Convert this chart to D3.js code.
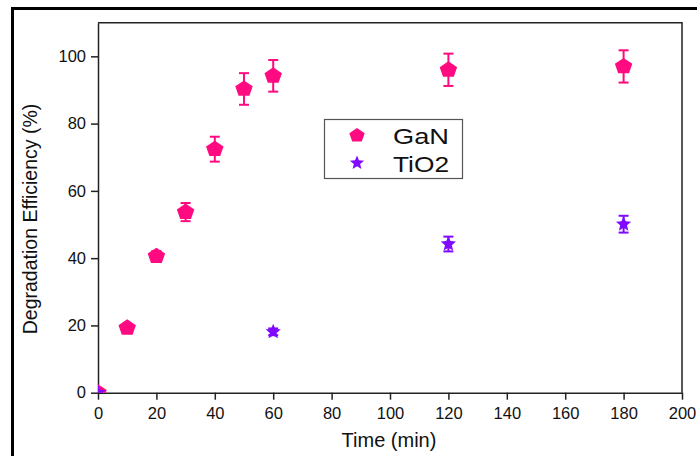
<!DOCTYPE html>
<html>
<head>
<meta charset="utf-8">
<script src="https://cdn.jsdelivr.net/npm/d3@7"></script>
<style>
  html, body { margin: 0; padding: 0; background: #fff; }
  svg { display: block; font-family: "Liberation Sans", Arial, sans-serif; }
</style>
</head>
<body>
<svg id="chart" width="697" height="456"></svg>
<script>
// ---- data ----
const ganTime  = [0, 10, 20, 30, 40, 50, 60, 120, 180];
const ganEff   = [0, 19.3, 40.6, 53.7, 72.4, 90.3, 94.2, 96.0, 97.0];
const ganErr   = [0, 0.6, 1.5, 2.7, 3.7, 4.7, 4.7, 4.8, 4.8];
const tioTime  = [0, 60, 120, 180];
const tioEff   = [0, 18.1, 44.2, 50.1];
const tioErr   = [0, 1.0, 2.2, 2.5];
const xTicks   = [0, 20, 40, 60, 80, 100, 120, 140, 160, 180, 200];
const yTicks   = [0, 20, 40, 60, 80, 100];
const seriesNames = ["GaN", "TiO2"];
const seriesColors = ["#ff0a80", "#7f0aff"];

const svg = d3.select("#chart");
const L = 98, R = 682, T = 22.7, B = 392.7;

// outer frame
svg.append("path")
  .attr("d", "M12.5,460 L12.5,8.5 L700,8.5")
  .attr("fill", "none").attr("stroke", "#000").attr("stroke-width", 3);

const x = d3.scaleLinear().domain([0, 200]).range([L, R]);
const y = d3.scaleLinear().domain([0, 110]).range([B, T]);

// clip
svg.append("defs").append("clipPath").attr("id", "plotclip")
  .append("rect").attr("x", L).attr("y", T).attr("width", R - L).attr("height", B - T);

// plot box top/right
svg.append("path")
  .attr("d", `M${L},${T} L${R},${T} L${R},${B}`)
  .attr("fill", "none").attr("stroke", "#222").attr("stroke-width", 1.5);

const xAxis = svg.append("g").attr("transform", `translate(0,${B})`)
  .call(d3.axisBottom(x).tickValues(xTicks).tickSize(7).tickSizeOuter(0).tickPadding(4));
const yAxis = svg.append("g").attr("transform", `translate(${L},0)`)
  .call(d3.axisLeft(y).tickValues(yTicks).tickSize(7).tickSizeOuter(0).tickPadding(5));
[xAxis, yAxis].forEach(g => {
  g.select(".domain").attr("stroke", "#222").attr("stroke-width", 1.5);
  g.selectAll(".tick line").attr("stroke", "#222").attr("stroke-width", 1.5);
  g.selectAll(".tick text").attr("fill", "#111").style("font-size", "16.5px")
    .style("font-family", "'Liberation Sans', Arial, sans-serif");
});
xAxis.selectAll(".tick text").attr("dy", "0.9em");

// axis titles
svg.append("text").attr("x", 389).attr("y", 447)
  .attr("text-anchor", "middle").style("font-size", "20px").attr("fill", "#111")
  .text("Time (min)");
svg.append("text").attr("transform", `translate(37,219) rotate(-90)`)
  .attr("text-anchor", "middle").style("font-size", "19.5px").attr("fill", "#111")
  .text("Degradation Efficiency (%)");

function pentagonPath(r) {
  const pts = d3.range(5).map(i => {
    const a = -Math.PI / 2 + i * 2 * Math.PI / 5;
    return [r * 1.08 * Math.cos(a), r * Math.sin(a)];
  });
  return "M" + pts.map(p => p.join(",")).join("L") + "Z";
}
function starPath(ro, ri) {
  const pts = d3.range(10).map(i => {
    const r = i % 2 === 0 ? ro : ri;
    const a = -Math.PI / 2 + i * Math.PI / 5;
    return [r * Math.cos(a), r * Math.sin(a)];
  });
  return "M" + pts.map(p => p.join(",")).join("L") + "Z";
}

function drawSeries(times, vals, errs, color, shape) {
  const g = svg.append("g");
  const data = times.map((t, i) => ({ t, v: vals[i], e: errs[i] }));
  const eb = g.selectAll("g.eb").data(data.filter(d => d.e > 0.8)).join("g");
  eb.append("line").attr("x1", d => x(d.t)).attr("x2", d => x(d.t))
    .attr("y1", d => y(d.v + d.e)).attr("y2", d => y(d.v - d.e))
    .attr("stroke", color).attr("stroke-width", 2);
  eb.append("line").attr("x1", d => x(d.t) - 5).attr("x2", d => x(d.t) + 5)
    .attr("y1", d => y(d.v + d.e)).attr("y2", d => y(d.v + d.e))
    .attr("stroke", color).attr("stroke-width", 2);
  eb.append("line").attr("x1", d => x(d.t) - 5).attr("x2", d => x(d.t) + 5)
    .attr("y1", d => y(d.v - d.e)).attr("y2", d => y(d.v - d.e))
    .attr("stroke", color).attr("stroke-width", 2);
  g.append("g").attr("clip-path", "url(#plotclip)")
    .selectAll("path").data(data).join("path")
    .attr("transform", d => `translate(${x(d.t)},${y(d.v)})`)
    .attr("d", shape).attr("fill", color);
}
drawSeries(ganTime, ganEff, ganErr, seriesColors[0], pentagonPath(8.5));
drawSeries(tioTime, tioEff, tioErr, seriesColors[1], starPath(8, 3.6));

// legend
const lg = svg.append("g");
lg.append("rect").attr("x", 324.5).attr("y", 119.5).attr("width", 138).attr("height", 59)
  .attr("fill", "#fff").attr("stroke", "#555").attr("stroke-width", 1.2);
lg.append("path").attr("transform", "translate(357,135.5)").attr("d", pentagonPath(7.5)).attr("fill", seriesColors[0]);
lg.append("path").attr("transform", "translate(357,163)").attr("d", starPath(7.5, 3.3)).attr("fill", seriesColors[1]);
lg.append("text").attr("x", 393).attr("y", 143.5).style("font-size", "22px").attr("fill", "#111")
  .attr("textLength", 56).attr("lengthAdjust", "spacingAndGlyphs").text(seriesNames[0]);
lg.append("text").attr("x", 393).attr("y", 171.5).style("font-size", "22px").attr("fill", "#111")
  .attr("textLength", 56).attr("lengthAdjust", "spacingAndGlyphs").text(seriesNames[1]);
</script>
</body>
</html>
